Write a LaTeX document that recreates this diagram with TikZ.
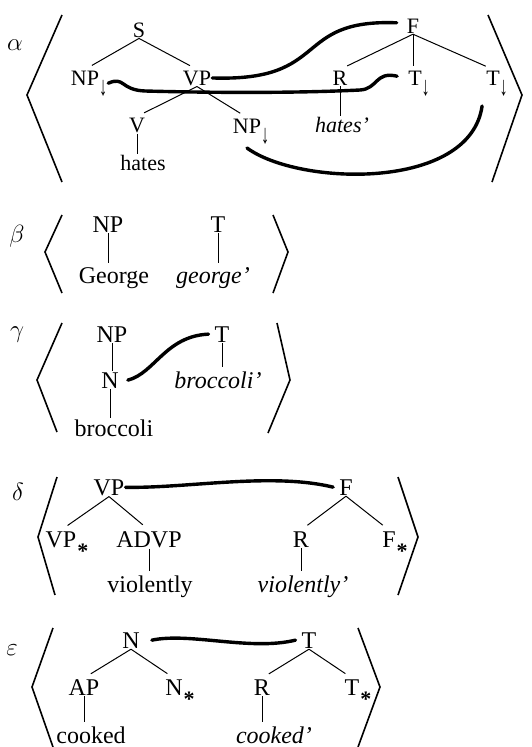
\documentclass[tikz,border=0pt]{standalone}
\usepackage{graphicx}
\usepackage{fontspec}
\setmainfont{Liberation Serif}
\newcommand{\dnsub}{\rlap{\raisebox{-10pt}{\scalebox{0.9}[1.5]{\fontsize{18}{18}\selectfont ↓}}}}
\newcommand{\stsub}{\rlap{\kern1pt\raisebox{-11pt}{\fontsize{22}{22}\selectfont\bfseries *}}}
\begin{document}
\begin{tikzpicture}[x=1pt,y=-1pt,
  lab/.style={font=\fontsize{24}{28}\selectfont, inner sep=1pt, anchor=base},
  laba/.style={font=\fontsize{22}{26}\selectfont, inner sep=1pt, anchor=base},
  itl/.style={lab, font=\fontsize{24}{28}\selectfont\itshape},
  itla/.style={laba, font=\fontsize{22}{26}\selectfont\itshape},
  greek/.style={font=\fontsize{24}{28}\selectfont, inner sep=1pt},
  br/.style={line width=1.6pt},
  tr/.style={line width=1pt, shorten >=8pt},
  vt/.style={line width=1pt},
  link/.style={line width=3.4pt, line cap=round}]
\useasboundingbox (0,0) rectangle (531,747);

% ---------- alpha ----------
\node[greek] (alpha) at (15,45) {$\alpha$};
\draw[br] (62,15) -- (27,95) -- (62,182);
\draw[br] (488,15) -- (522,95) -- (492,182);
\node[laba] (S) at (139,37) {S};
\node[laba] (NPa) at (85,85) {NP\dnsub};
\node[laba] (VPa) at (197,85) {VP};
\node[laba] (V) at (137,132) {V};
\node[laba] (NPb) at (247,133) {NP\dnsub};
\node[laba] (hates) at (143,170) {hates};
\node[laba] (F) at (413,33) {F};
\node[laba] (R) at (340,85) {R};
\node[itla] (hatesp) at (342,132) {hates'};
\node[laba] (Ta) at (415,85) {T\dnsub};
\node[laba] (Tb) at (493,85) {T\dnsub};
\draw[tr] (S.south) -- (NPa.north);
\draw[tr] (S.south) -- (VPa.north);
\draw[tr] (VPa.south) -- (V.north);
\draw[tr] (VPa.south) -- (NPb.north);
\draw[vt] (V.south) -- (V.south |- hates.north);
\draw[tr] (F.south) -- (R.north);
\draw[vt] (F.south) -- ([yshift=3pt]F.south |- Ta.north);
\draw[tr] (F.south) -- (Tb.north);
\draw[vt] (R.south) -- (R.south |- hatesp.north);
\draw[link] (VPa.east) .. controls +(119,4) and +(-105,-4) .. ([xshift=-9pt,yshift=3pt]F.west);
\draw[link] ([xshift=8pt]NPa.east) .. controls (125,76) and (120,90) .. (145,91)
  .. controls (220,93) and (300,93) .. (360,90)
  .. controls (378,89) and (375,71) .. ([xshift=-10pt,yshift=7pt]Ta.west);
\draw[link] ([yshift=-3pt]NPb.south) .. controls +(52,38) and +(-12,85) .. ([xshift=-3pt,yshift=-9pt]Tb.south west);

% ---------- beta ----------
\node[greek] (beta) at (17,236) {$\beta$};
\draw[br] (62,215) -- (45,252) -- (62,293);
\draw[br] (273,215) -- (288,252) -- (273,293);
\node[lab] (NPbeta) at (108,232) {NP};
\node[lab] (George) at (114,283) {George};
\node[lab] (Tbeta) at (218,232) {T};
\node[itl] (georgep) at (213,283) {george'};
\draw[vt] (NPbeta.south) -- ([yshift=3pt]NPbeta.south |- George.north);
\draw[vt] (Tbeta.south) -- ([yshift=3pt]Tbeta.south |- georgep.north);

% ---------- gamma ----------
\node[greek] (gamma) at (17,335) {$\gamma$};
\draw[br] (62,323) -- (37,380) -- (57,432);
\draw[br] (277,323) -- (290,380) -- (268,433);
\node[lab] (NPg) at (112,342) {NP};
\node[lab] (Ng) at (110,388) {N};
\node[lab] (broccoli) at (114,436) {broccoli};
\node[lab] (Tg) at (222,342) {T};
\node[itl] (broccolip) at (218,388) {broccoli'};
\draw[vt] (NPg.south) -- (NPg.south |- Ng.north);
\draw[vt] (Ng.south) -- (Ng.south |- broccoli.north);
\draw[vt] (Tg.south) -- ([yshift=3pt]Tg.south |- broccolip.north);
\draw[link] ([xshift=8pt]Ng.east) .. controls +(27,-7) and +(-43,2) .. ([xshift=-5pt]Tg.west);

% ---------- delta ----------
\node[greek] (delta) at (18,492) {$\delta$};
\draw[br] (57,477) -- (38,537) -- (55,595);
\draw[br] (398,477) -- (418,537) -- (398,595);
\node[lab] (VPd) at (109,495) {VP};
\node[lab] (VPs) at (61,547) {VP\stsub};
\node[lab] (ADVP) at (149,547) {ADVP};
\node[lab] (violently) at (150,592) {violently};
\node[lab] (Fd) at (346,495) {F};
\node[lab] (Rd) at (301,547) {R};
\node[itl] (violentlyp) at (303,592) {violently'};
\node[lab] (Fs) at (389,547) {F\stsub};
\draw[tr] (VPd.south) -- (VPs.north);
\draw[tr] (VPd.south) -- (ADVP.north);
\draw[vt] (ADVP.south) -- ([yshift=3pt]ADVP.south |- violently.north);
\draw[tr] (Fd.south) -- (Rd.north);
\draw[tr] (Fd.south) -- (Fs.north);
\draw[vt] (Rd.south) -- ([yshift=3pt]Rd.south |- violentlyp.north);
\draw[link] (VPd.east) .. controls +(63,1) and +(-62,-15) .. ([xshift=-5pt]Fd.west);

% ---------- epsilon ----------
\node[greek] (epsilon) at (12,650) {$\varepsilon$};
\draw[br] (53,628) -- (32,687) -- (53,747);
\draw[br] (358,628) -- (380,687) -- (358,747);
\node[lab] (Ne) at (131,648) {N};
\node[lab] (AP) at (84,695) {AP};
\node[lab] (Ns) at (174,695) {N\stsub};
\node[lab] (cooked) at (91,743) {cooked};
\node[lab] (Te) at (309,648) {T};
\node[lab] (Re) at (262,695) {R};
\node[lab] (Ts) at (352,695) {T\stsub};
\node[itl] (cookedp) at (274,743) {cooked'};
\draw[tr] (Ne.south) -- (AP.north);
\draw[tr] (Ne.south) -- (Ns.north);
\draw[vt] (AP.south) -- ([yshift=3pt]AP.south |- cooked.north);
\draw[tr] (Te.south) -- (Re.north);
\draw[tr] (Te.south) -- (Ts.north);
\draw[vt] (Re.south) -- ([yshift=3pt]Re.south |- cookedp.north);
\draw[link] ([xshift=11pt]Ne.east) .. controls +(38,-8) and +(-45,11) .. ([xshift=-5pt]Te.west);
\end{tikzpicture}
\end{document}
